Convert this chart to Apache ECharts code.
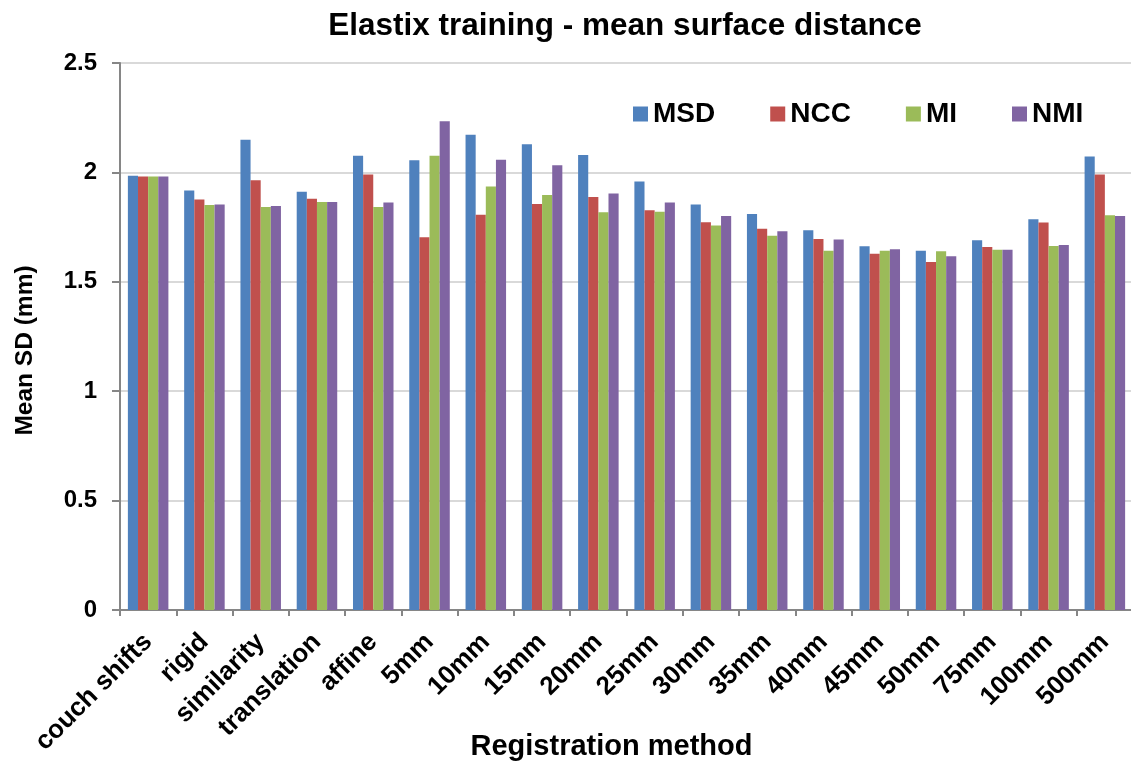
<!DOCTYPE html>
<html>
<head>
<meta charset="utf-8">
<script src="https://cdn.jsdelivr.net/npm/echarts@6/dist/echarts.min.js"></script>
<style>html,body{margin:0;padding:0;background:#fff}#c{width:1131px;height:766px}</style>
</head>
<body>
<div id="c"></div>
<script>
const categories = ["couch shifts","rigid","similarity","translation","affine","5mm","10mm","15mm","20mm","25mm","30mm","35mm","40mm","45mm","50mm","75mm","100mm","500mm"];
const msd = [1.985,1.917,2.149,1.911,2.076,2.056,2.172,2.129,2.079,1.958,1.853,1.810,1.736,1.662,1.642,1.690,1.786,2.073];
const ncc = [1.981,1.876,1.964,1.879,1.990,1.704,1.807,1.856,1.888,1.827,1.772,1.742,1.696,1.628,1.591,1.659,1.771,1.990];
const mi  = [1.981,1.851,1.842,1.865,1.842,2.076,1.935,1.897,1.818,1.820,1.757,1.710,1.642,1.642,1.640,1.646,1.664,1.804];
const nmi = [1.981,1.853,1.847,1.865,1.862,2.234,2.058,2.033,1.903,1.862,1.801,1.731,1.693,1.649,1.617,1.646,1.668,1.801];
const yTicks = [0,0.5,1,1.5,2,2.5];

const font = "Liberation Sans, Arial, sans-serif";
const chart = echarts.init(document.getElementById('c'));
const mk = (name, data, color) => ({
  name, type: 'bar', data, barGap: '0%', barCategoryGap: '28%',
  itemStyle: {color}
});
chart.setOption({
  animation: false,
  textStyle: {fontFamily: font},
  title: {
    text: 'Elastix training - mean surface distance',
    left: 620, top: 5, textAlign: 'center',
    textStyle: {fontSize: 31.5, fontWeight: 'bold', color: '#000', fontFamily: font}
  },
  legend: {
    left: 628, top: 95, itemWidth: 15, itemHeight: 15, itemGap: 55,
    icon: 'rect',
    textStyle: {fontSize: 28, fontWeight: 'bold', color: '#000', fontFamily: font}
  },
  grid: {left: 120, top: 63, width: 1013, bottom: 156, containLabel: false, outerBoundsMode: 'none'},
  xAxis: {
    type: 'category', data: categories,
    name: 'Registration method', nameLocation: 'middle', nameGap: 122, nameMoveOverlap: false,
    nameTextStyle: {fontSize: 29, fontWeight: 'bold', color: '#000', padding: [0, 30, 0, 0]},
    axisLine: {lineStyle: {color: '#868686', width: 2}},
    axisTick: {show: true, length: 6, lineStyle: {color: '#868686', width: 2}, alignWithLabel: false},
    axisLabel: {rotate: 45, fontSize: 26, fontWeight: 'bold', color: '#000', margin: 28, interval: 0}
  },
  yAxis: {
    type: 'value', min: 0, max: 2.5, interval: 0.5,
    name: 'Mean SD (mm)', nameLocation: 'middle', nameGap: 82, nameMoveOverlap: false,
    nameTextStyle: {fontSize: 24.5, fontWeight: 'bold', color: '#000', padding: [0, 28, 0, 0]},
    axisLine: {show: true, lineStyle: {color: '#868686', width: 2}},
    axisTick: {show: true, length: 8, lineStyle: {color: '#868686', width: 2}},
    axisLabel: {fontSize: 24, fontWeight: 'bold', color: '#000', margin: 23,
      formatter: v => yTicks.includes(v) ? String(v) : ''},
    splitLine: {lineStyle: {color: '#d9d9d9', width: 2}}
  },
  series: [
    mk('MSD', msd, '#4F81BD'),
    mk('NCC', ncc, '#C0504D'),
    mk('MI', mi, '#9BBB59'),
    mk('NMI', nmi, '#8064A2')
  ]
});
</script>
</body>
</html>
